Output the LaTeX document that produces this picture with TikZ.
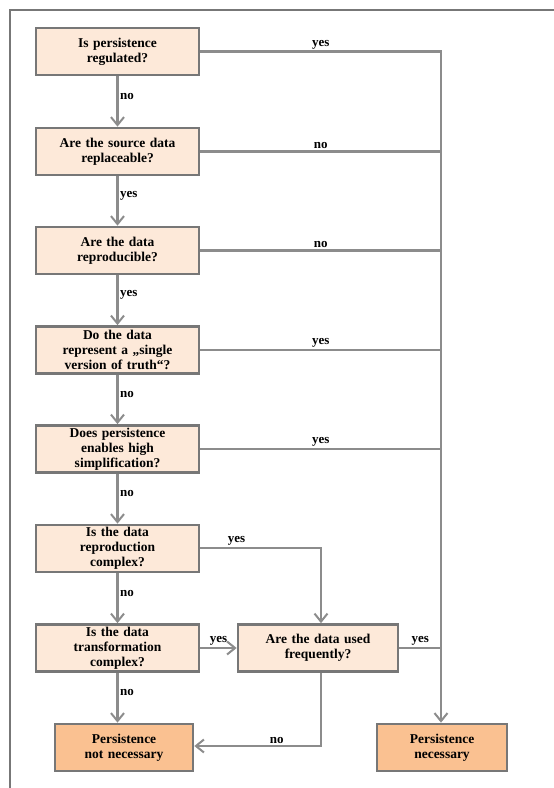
\documentclass[tikz,border=0pt]{standalone}
\usepackage{fontspec}
\setmainfont{Liberation Serif}
\usetikzlibrary{positioning, arrows.meta}
\definecolor{boxgray}{HTML}{777777}
\definecolor{linegray}{HTML}{8C8C8C}
\definecolor{qfill}{HTML}{FDE9D9}
\definecolor{endfill}{HTML}{FAC191}
\tikzset{
  qbox/.style={draw=boxgray, line width=2.7pt, fill=qfill, minimum width=163pt,
    minimum height=47pt, text width=156pt, align=center, inner sep=0pt,
    font=\fontsize{13.5}{15}\selectfont\bfseries},
  endbox/.style={qbox, fill=endfill, minimum width=138pt, text width=130pt},
  flow/.style={draw=linegray, line width=2.3pt, -{Straight Barb[length=8pt, width=13pt, line width=2pt]}},
  link/.style={draw=linegray, line width=2.3pt},
  lbl/.style={font=\fontsize{13}{14}\selectfont\bfseries, inner sep=1.5pt},
}
\begin{document}
\begin{tikzpicture}[x=1pt, y=-1pt]
  \useasboundingbox (0,0) rectangle (554,788);
  % frame
  \draw[boxgray, line width=1.5pt] (554,10) -- (10,10) -- (10,788);
  % questions
  \node[qbox] (q1) at (117.5,51.5) {Is persistence\\regulated?};
  \node[qbox] (q2) at (117.5,151.5) {Are the source data\\replaceable?};
  \node[qbox] (q3) at (117.5,250.5) {Are the data\\reproducible?};
  \node[qbox] (q4) at (117.5,350) {Do the data\\represent a „single\\version of truth“?};
  \node[qbox] (q5) at (117.5,449) {Does persistence\\enables high\\simplification?};
  \node[qbox] (q6) at (117.5,548.5) {Is the data\\reproduction\\complex?};
  \node[qbox] (q7) at (117.5,648) {Is the data\\transformation\\complex?};
  \node[qbox, minimum width=160pt] (q8) at (318,648) {Are the data used\\frequently?};
  % results
  \node[endbox] (notnec) at (124,747.5) {Persistence\\not necessary};
  \node[endbox, minimum width=130pt, text width=124pt] (nec) at (442,747.5) {Persistence\\necessary};
  \coordinate (R) at (441,51.5);
  \coordinate (T) at (321,548);
  \coordinate (B) at (321,746);
  % left column
  \draw[flow] (q1) -- node[lbl, right, pos=0.4] {no} (q2);
  \draw[flow] (q2) -- node[lbl, right, pos=0.4] {yes} (q3);
  \draw[flow] (q3) -- node[lbl, right, pos=0.4] {yes} (q4);
  \draw[flow] (q4) -- node[lbl, right, pos=0.4] {no} (q5);
  \draw[flow] (q5) -- node[lbl, right, pos=0.4] {no} (q6);
  \draw[flow] (q6) -- node[lbl, right, pos=0.4] {no} (q7);
  \draw[flow] (q7.south) -- node[lbl, right, pos=0.4] {no} (q7.south |- notnec.north);
  % right trunk
  \draw[flow] (q1.east) -- node[lbl, above, pos=0.5] {yes} (R) -- (R |- nec.north);
  \draw[link] (q2.east) -- node[lbl, above] {no} (q2.east -| R);
  \draw[link] (q3.east) -- node[lbl, above] {no} (q3.east -| R);
  \draw[link] (q4.east) -- node[lbl, above] {yes} (q4.east -| R);
  \draw[link] (q5.east) -- node[lbl, above] {yes} (q5.east -| R);
  % middle branch
  \draw[flow] (q6.east |- T) -- node[lbl, above, pos=0.3] {yes} (T) -- (T |- q8.north);
  \draw[flow] (q7.east) -- node[lbl, above] {yes} (q8.west);
  \draw[link] (q8.east) -- node[lbl, above] {yes} (q8.east -| R);
  \draw[flow] (q8.south -| B) -- (B) -- node[lbl, above, pos=0.35] {no} (B -| notnec.east);
\end{tikzpicture}
\end{document}
